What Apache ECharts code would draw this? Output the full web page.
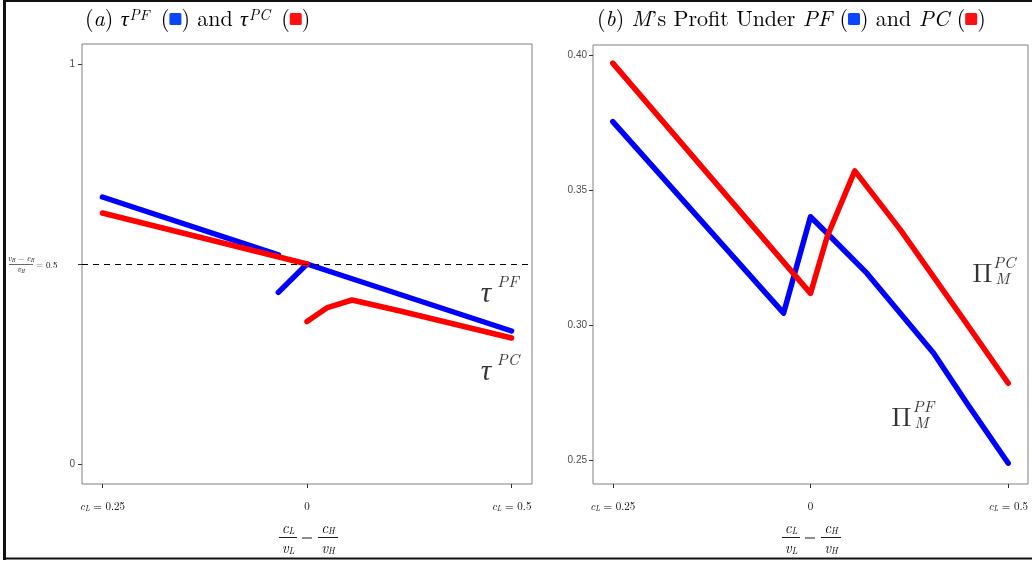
<!DOCTYPE html>
<html><head><meta charset="utf-8">
<script src="https://cdn.jsdelivr.net/npm/echarts@6/dist/echarts.min.js"></script>
<style>html,body{margin:0;padding:0;background:#fff}#c{width:1032px;height:562px}</style>
</head><body><div id="c"></div>
<script>
// ---------------- data ----------------
const xTickValues = [-1, 0, 1];
const xTickLabels = [['c', 'L', ' = 0.25'], ['', '', '0'], ['c', 'L', ' = 0.5']];
const tauYTicks = [0, 0.5, 1];
const tauYLabels = ['0', '', '1'];
const threshold = 0.5;
const tauPF_part1 = [[-1, 0.6675], [-0.14, 0.523]];
const tauPF_part2 = [[-0.14, 0.429], [0, 0.5], [1, 0.3325]];
const tauPC_part1 = [[-1, 0.6275], [0, 0.5]];
const tauPC_part2 = [[0, 0.356], [0.10, 0.391], [0.22, 0.410], [0.45, 0.383], [1, 0.315]];
const profitYTicks = [0.25, 0.30, 0.35, 0.40];
const profitPF = [[-1, 0.3753], [-0.136, 0.3044], [0, 0.3401], [0.118, 0.3315], [0.286, 0.3191], [0.623, 0.2895], [0.791, 0.271], [1, 0.2488]];
const profitPC = [[-1, 0.397], [0, 0.3117], [0.084, 0.3327], [0.224, 0.3571], [0.455, 0.3352], [0.791, 0.3003], [1, 0.2784]];
const tauNotes = [{ base: 'τ', sup: 'PF', at: [0.875, 0.4275] }, { base: 'τ', sup: 'PC', at: [0.875, 0.2325] }];
const profitNotes = [{ base: 'Π', sup: 'PC', sub: 'M', at: [0.869, 0.3189] }, { base: 'Π', sup: 'PF', sub: 'M', at: [0.46, 0.2656] }];

// ---------------- styling ----------------
const SERIF = "'Latin Modern Roman','Liberation Serif','DejaVu Serif',serif";
const SANS = "'Liberation Sans',Arial,sans-serif";
const BLUE = '#0000ff', RED = '#ff0000';
const SQ_BLUE = '#0a46ff', SQ_RED = '#ff1010';

const chart = echarts.init(document.getElementById('c'), null, { renderer: 'canvas' });

function lineSeries(data, color, idx, z) {
  return {
    type: 'line', xAxisIndex: idx, yAxisIndex: idx, data: data, symbol: 'none', showSymbol: false,
    silent: true, animation: false, z: z,
    lineStyle: { color: color, width: 5.5, cap: 'round', join: 'round' }
  };
}

const xLabelRich = {
  i: { fontFamily: SERIF, fontStyle: 'italic', fontSize: 11, color: '#000' },
  s: { fontFamily: SERIF, fontStyle: 'italic', fontSize: 7.5, color: '#000', verticalAlign: 'bottom', padding: [4, 0, 0, 0] },
  n: { fontFamily: SERIF, fontSize: 11, color: '#000' }
};
function xLabelFormatter(v) {
  const k = xTickValues.indexOf(v);
  if (k < 0) return '';
  const p = xTickLabels[k];
  return (p[0] ? '{i|' + p[0] + '}' : '') + (p[1] ? '{s|' + p[1] + '}' : '') + '{n|' + p[2] + '}';
}

function xAxisDef(idx) {
  return {
    type: 'value', gridIndex: idx, min: -1.1, max: 1.1,
    splitLine: { show: false }, axisLine: { show: false, onZero: false },
    axisTick: { show: true, customValues: xTickValues, length: 4, lineStyle: { color: '#333', width: 1 } },
    axisLabel: { show: true, customValues: xTickValues, margin: 17, formatter: xLabelFormatter, rich: xLabelRich }
  };
}

const noteRich = {
  b: { fontFamily: SERIF, fontStyle: 'italic', fontSize: 29, color: '#000' },
  B: { fontFamily: SERIF, fontSize: 27, color: '#000' },
  p: { fontFamily: SERIF, fontStyle: 'italic', fontSize: 16, color: '#000' }
};

function noteSeries(notes, idx, upright) {
  const data = [];
  notes.forEach(n => {
    data.push({ value: n.at, label: { formatter: '{' + (upright ? 'B' : 'b') + '|' + n.base + '}' } });
    data.push({ value: n.at, label: { formatter: '{p|' + n.sup + '}', offset: [22, -11] } });
    if (n.sub) data.push({ value: n.at, label: { formatter: '{p|' + n.sub + '}', offset: [20, 5] } });
  });
  return {
    type: 'scatter', xAxisIndex: idx, yAxisIndex: idx, symbolSize: 0, silent: true, animation: false, z: 5,
    data: data,
    label: { show: true, position: 'inside', rich: noteRich }
  };
}

const mathRich = {
  i: { fontFamily: SERIF, fontStyle: 'italic', fontSize: 15, fill: '#000' },
  s: { fontFamily: SERIF, fontStyle: 'italic', fontSize: 9, fill: '#000', verticalAlign: 'bottom', padding: [5, 0, 0, 0] }
};

function axisTitle(cx) {
  const y = 537;
  return {
    type: 'group', x: cx, y: y, silent: true,
    children: [
      { type: 'text', x: -19, y: -9, style: { text: '{i|c}{s|L}', align: 'center', verticalAlign: 'middle', rich: mathRich } },
      { type: 'text', x: 21, y: -9, style: { text: '{i|c}{s|H}', align: 'center', verticalAlign: 'middle', rich: mathRich } },
      { type: 'text', x: -19, y: 11, style: { text: '{i|v}{s|L}', align: 'center', verticalAlign: 'middle', rich: mathRich } },
      { type: 'text', x: 21, y: 11, style: { text: '{i|v}{s|H}', align: 'center', verticalAlign: 'middle', rich: mathRich } },
      { type: 'line', shape: { x1: -28, y1: 0.5, x2: -10, y2: 0.5 }, style: { stroke: '#000', lineWidth: 0.9 } },
      { type: 'line', shape: { x1: 11, y1: 0.5, x2: 31, y2: 0.5 }, style: { stroke: '#000', lineWidth: 0.9 } },
      { type: 'line', shape: { x1: -5, y1: 1, x2: 5, y2: 1 }, style: { stroke: '#000', lineWidth: 0.9 } }
    ]
  };
}

const smallRich = {
  i: { fontFamily: SERIF, fontStyle: 'italic', fontSize: 8, fill: '#000' },
  s: { fontFamily: SERIF, fontStyle: 'italic', fontSize: 5, fill: '#000', verticalAlign: 'bottom', padding: [3, 0, 0, 0] },
  n: { fontFamily: SERIF, fontSize: 8, fill: '#000' },
  e: { fontFamily: SERIF, fontSize: 9, fill: '#000' }
};

const titleRich = {
  t: { fontFamily: SERIF, fontSize: 22, color: '#000', fontWeight: 'normal' },
  ti: { fontFamily: SERIF, fontStyle: 'italic', fontSize: 22, color: '#000', fontWeight: 'normal' },
  sup: { fontFamily: SERIF, fontStyle: 'italic', fontSize: 15, color: '#000', verticalAlign: 'top', fontWeight: 'normal', padding: [0, 4, 0, 1] },
  bq: { width: 12, height: 12, backgroundColor: SQ_BLUE, borderRadius: 1.5 },
  rq: { width: 12, height: 12, backgroundColor: SQ_RED, borderRadius: 1.5 }
};

const option = {
  backgroundColor: '#fff',
  animation: false,
  title: [
    { left: 80, top: 3, text: '{t|(}{ti|a}{t|) }{ti|τ}{sup|PF}{t| (}{bq| }{t|) and }{ti|τ}{sup|PC}{t| (}{rq| }{t|)}', textStyle: { rich: titleRich } },
    { left: 592, top: 3, text: '{t|(}{ti|b}{t|) }{ti|M}{t|’s Profit Under }{ti|PF}{t| (}{bq| }{t|) and }{ti|PC}{t| (}{rq| }{t|)}', textStyle: { rich: titleRich } }
  ],
  grid: [
    { left: 82, top: 44, width: 450, height: 440, show: true, borderColor: '#808080', borderWidth: 1, backgroundColor: 'transparent' },
    { left: 593, top: 45, width: 435, height: 439, show: true, borderColor: '#808080', borderWidth: 1, backgroundColor: 'transparent' }
  ],
  xAxis: [xAxisDef(0), xAxisDef(1)],
  yAxis: [
    {
      type: 'value', gridIndex: 0, min: -0.05, max: 1.05,
      splitLine: { show: false }, axisLine: { show: false, onZero: false },
      axisTick: { show: true, customValues: tauYTicks, length: 4, lineStyle: { color: '#333' } },
      axisLabel: {
        show: true, customValues: [0, 1], margin: 7, color: '#4d4d4d', fontFamily: SANS, fontSize: 10,
        formatter: v => tauYLabels[tauYTicks.indexOf(v)] || ''
      }
    },
    {
      type: 'value', gridIndex: 1, min: 0.2411, max: 0.4037,
      splitLine: { show: false }, axisLine: { show: false, onZero: false },
      axisTick: { show: true, customValues: profitYTicks, length: 4, lineStyle: { color: '#333' } },
      axisLabel: {
        show: true, customValues: profitYTicks, margin: 6, color: '#4d4d4d', fontFamily: SANS, fontSize: 10,
        formatter: v => v.toFixed(2)
      }
    }
  ],
  series: [
    {
      type: 'line', xAxisIndex: 0, yAxisIndex: 0, data: [], silent: true, z: 1,
      markLine: {
        silent: true, symbol: 'none', animation: false, label: { show: false },
        lineStyle: { color: '#000', type: [6, 5], width: 1.2 },
        data: [{ yAxis: threshold }]
      }
    },
    lineSeries(tauPF_part1, BLUE, 0, 2),
    lineSeries(tauPF_part2, BLUE, 0, 2),
    lineSeries(tauPC_part1, RED, 0, 3),
    lineSeries(tauPC_part2, RED, 0, 3),
    lineSeries(profitPF, BLUE, 1, 2),
    lineSeries(profitPC, RED, 1, 3),
    noteSeries(tauNotes, 0, false),
    noteSeries(profitNotes, 1, true)
  ],
  graphic: [
    { type: 'line', silent: true, shape: { x1: 4.5, y1: 0, x2: 4.5, y2: 560 }, style: { stroke: '#111', lineWidth: 3 } },
    { type: 'line', silent: true, shape: { x1: 3, y1: 1, x2: 1032, y2: 1 }, style: { stroke: '#111', lineWidth: 2 } },
    { type: 'line', silent: true, shape: { x1: 3, y1: 558.5, x2: 1032, y2: 558.5 }, style: { stroke: '#111', lineWidth: 2 } },
    axisTitle(307),
    axisTitle(810),
    {
      type: 'group', x: 21, y: 264, silent: true,
      children: [
        { type: 'text', x: 0, y: -5, style: { text: '{i|v}{s|H}{n| − }{i|c}{s|H}', align: 'center', verticalAlign: 'middle', rich: smallRich } },
        { type: 'line', shape: { x1: -12, y1: 0.5, x2: 12, y2: 0.5 }, style: { stroke: '#000', lineWidth: 0.6 } },
        { type: 'text', x: 0, y: 6, style: { text: '{i|v}{s|H}', align: 'center', verticalAlign: 'middle', rich: smallRich } },
        { type: 'text', x: 15, y: 1, style: { text: '{e|= 0.5}', align: 'left', verticalAlign: 'middle', rich: smallRich } }
      ]
    }
  ]
};
chart.setOption(option);
</script></body></html>
